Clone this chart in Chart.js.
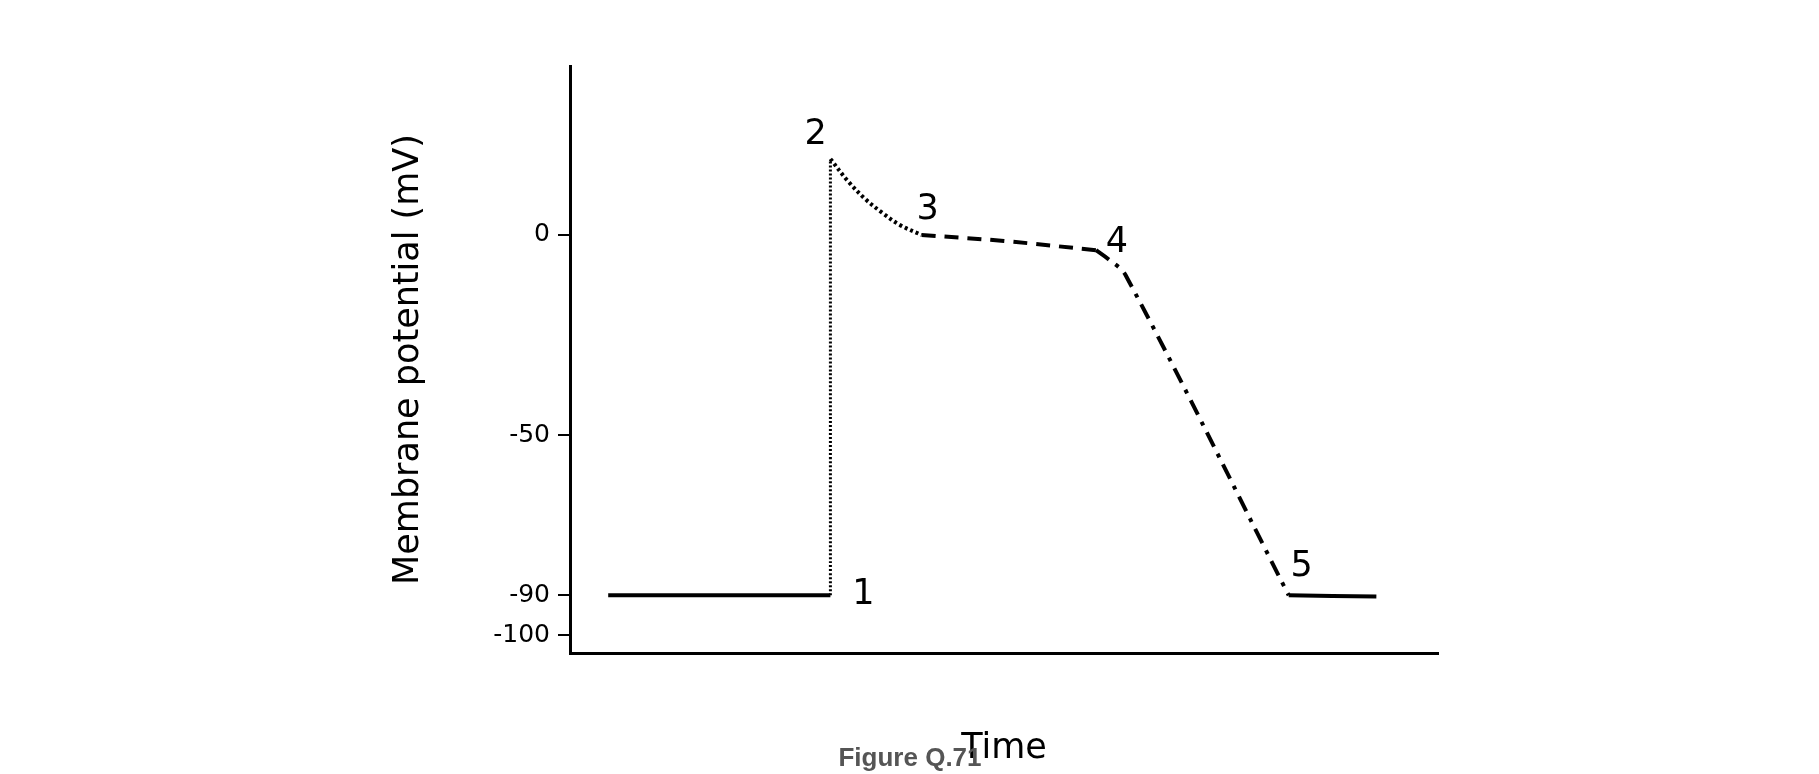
<!DOCTYPE html>
<html><head><meta charset="utf-8">
<script src="https://cdn.jsdelivr.net/npm/chart.js@4"></script>
<style>html,body{margin:0;background:#fff}</style>
</head><body>
<canvas id="c" width="1819" height="774"></canvas>
<script>
const yTicks = [0, -50, -90, -100];
const restingSeg = [[4.4,-90],[30,-90]];
const upstrokeSeg = [[30,-90],[30,19]];
const earlyRepolSeg = [[30,19],[32,13.5],[34,9],[36,5.5],[38,2.5],[40.5,0]];
const plateauSeg = [[40.5,0],[50,-1.5],[60.6,-3.8]];
const repolSeg = [[60.6,-3.8],[62,-6],[64,-10],[82.8,-90]];
const afterSeg = [[82.8,-90],[92.9,-90.3]];
const pointLabels = ['1','2','3','4','5'];
const labelX = [33.8, 28.3, 41.2, 63, 84.3];
const labelY = [-90, 25, 6.2, -2, -83];

const toXY = a => a.map(p => ({x:p[0], y:p[1]}));
function ds(d, dash, w){ return {data:toXY(d), borderColor:'#000', borderWidth:w, borderDash:dash, pointRadius:0, tension:0.35, fill:false}; }

const labelPlugin = {
  id:'labels',
  afterDatasetsDraw(chart){
    const {ctx, scales:{x,y}} = chart;
    ctx.save();
    ctx.fillStyle='#000'; ctx.font='35px "DejaVu Sans"';
    ctx.textAlign='center'; ctx.textBaseline='middle';
    pointLabels.forEach((t,i)=>ctx.fillText(t, x.getPixelForValue(labelX[i]), y.getPixelForValue(labelY[i])));
    ctx.fillStyle='#555'; ctx.font='bold 26px "Liberation Sans"';
    ctx.fillText('Figure Q.71', 910, 759);
    ctx.restore();
  }
};

new Chart(document.getElementById('c'), {
  type:'line',
  data:{datasets:[
    ds(restingSeg,[],4), ds(upstrokeSeg,[2,2],3), ds(earlyRepolSeg,[3,3],4),
    ds(plateauSeg,[14,9],4), ds(repolSeg,[16,8,4,8],4), ds(afterSeg,[],4)
  ]},
  options:{
    responsive:false, animation:false,
    layout:{padding:{left:388, right:381, top:66, bottom:0}},
    plugins:{legend:{display:false}, tooltip:{enabled:false}},
    scales:{
      x:{type:'linear', min:0, max:100,
        ticks:{display:false},
        grid:{display:false, drawTicks:false},
        border:{display:true, color:'#000', width:3},
        title:{display:true, text:'Time', color:'#000', font:{family:'DejaVu Sans', size:35}, padding:{top:24}},
        afterFit(s){ s.height = 121; }
      },
      y:{type:'linear', min:-104.4, max:42.2,
        afterBuildTicks(s){ s.ticks = yTicks.map(v=>({value:v})); },
        ticks:{color:'#000', font:{family:'DejaVu Sans', size:25}, padding:8},
        grid:{drawOnChartArea:false, tickLength:12, color:'#000', lineWidth:2},
        border:{display:true, color:'#000', width:3},
        title:{display:true, text:'Membrane potential (mV)', color:'#000', font:{family:'DejaVu Sans', size:35}, padding:0},
        afterFit(s){ s.width = 182; }
      }
    }
  },
  plugins:[labelPlugin]
});
</script>
</body></html>
